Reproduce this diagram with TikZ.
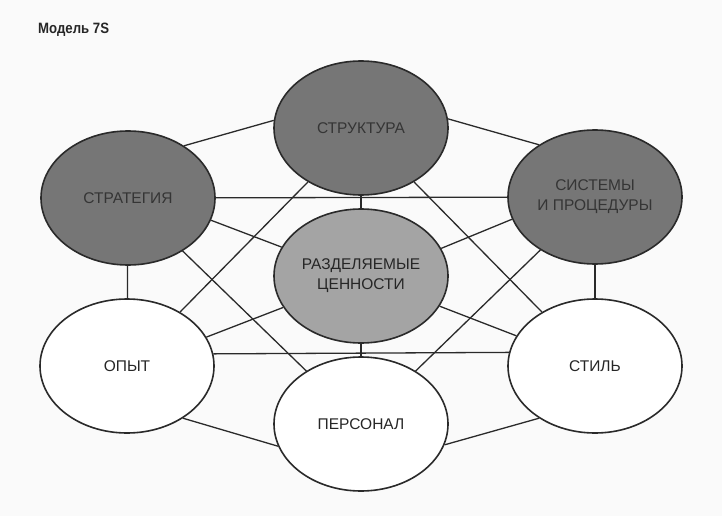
\documentclass[tikz,border=0pt]{standalone}
\usepackage{fontspec}
\setmainfont{Liberation Sans}
\usetikzlibrary{shapes.geometric}
\definecolor{bgc}{HTML}{FAFAFA}
\definecolor{darkfill}{HTML}{767676}
\definecolor{midfill}{HTML}{A4A4A4}
\definecolor{darktext}{HTML}{353535}
\definecolor{linec}{HTML}{2A2A2A}
\begin{document}
\begin{tikzpicture}[x=1pt,y=-1pt,
  ell/.style={ellipse,draw=linec,line width=1.6pt,minimum width=174pt,minimum height=134pt,
    inner sep=0pt,font=\fontsize{15.5}{20}\selectfont,align=center},
  darkell/.style={ell,fill=darkfill,text=darktext},
  midell/.style={ell,fill=midfill,text=black!85},
  whiteell/.style={ell,fill=white,text=black!85},
  conn/.style={draw=linec,line width=1.3pt}]
\fill[bgc] (0,0) rectangle (722,516);
\useasboundingbox (0,0) rectangle (722,516);
\node[anchor=west,font=\bfseries\fontsize{15}{18}\selectfont,text=black!85,xscale=0.88,inner sep=0pt] (title) at (38,30) {Модель 7S};

\node[darkell] (str) at (361,128) {СТРУКТУРА};
\node[darkell] (strat) at (128,198) {СТРАТЕГИЯ};
\node[darkell] (sys) at (595,197) {СИСТЕМЫ\\И ПРОЦЕДУРЫ};
\node[midell] (sh) at (361,276) {РАЗДЕЛЯЕМЫЕ\\ЦЕННОСТИ};
\node[whiteell] (op) at (127,366) {ОПЫТ};
\node[whiteell] (sty) at (595,366) {СТИЛЬ};
\node[whiteell] (per) at (361,424) {ПЕРСОНАЛ};

% outer ring
\draw[conn] (strat.43) -- (str.175);
\draw[conn] (str.6) -- (sys.137);
\draw[conn] (strat) -- (op);
\draw[conn] (sys) -- (sty);
\draw[conn] (op.-43) -- (per.195);
\draw[conn] (per.-14.5) -- (sty.223);
% horizontals
\draw[conn] (strat) -- (sys);
\draw[conn] (op.8.7) -- (sty.171.3);
% verticals
\draw[conn] (str) -- (sh);
\draw[conn] (sh) -- (per);
% spokes from shared values
\draw[conn] (strat.-15) -- (sh.160);
\draw[conn] (sys.195.5) -- (sh.19.7);
\draw[conn] (sh.202) -- (op.20);
\draw[conn] (sh.-21.4) -- (sty.159);
% long diagonals
\draw[conn] (str) -- (op);
\draw[conn] (str) -- (sty);
\draw[conn] (strat) -- (per);
\draw[conn] (sys) -- (per);
\end{tikzpicture}
\end{document}
